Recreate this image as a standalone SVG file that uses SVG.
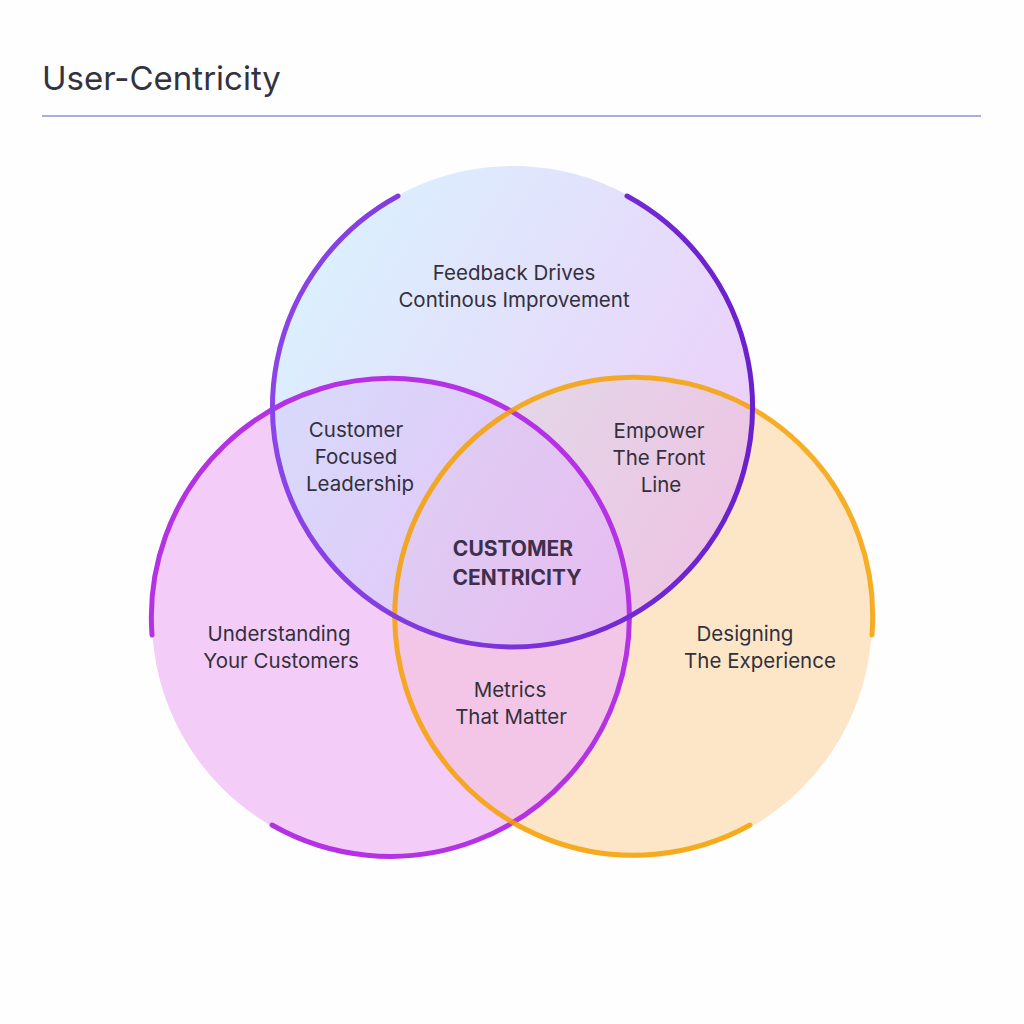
<svg xmlns="http://www.w3.org/2000/svg" width="1024" height="1024" viewBox="0 0 1024 1024">
<style>
text{font-family:Inter,"Liberation Sans",sans-serif;fill:#33303d;text-anchor:middle}
.t{font-size:20.5px}
.c{font-size:21px;font-weight:700;fill:#3e2f4d}
.s{fill:none;stroke-width:5;stroke-linecap:round}
</style>
<defs>
<linearGradient id="gt" x1="0" y1="0" x2="1" y2="0.6"><stop offset="0" stop-color="#bff0ff"/><stop offset="1" stop-color="#e2b2f6"/></linearGradient>
<linearGradient id="st" x1="0" y1="0" x2="1" y2="0"><stop offset="0" stop-color="#8a45e8"/><stop offset="1" stop-color="#6a20cc"/></linearGradient>
</defs>
<rect width="1024" height="1024" fill="#fefefe"/>
<text x="42" y="90" style="font-size:33px;text-anchor:start;fill:#33333f">User-Centricity</text>
<line x1="42" y1="116" x2="981" y2="116" stroke="#5563b0" stroke-width="1"/>
<g id="right"><circle cx="633" cy="619" r="239" fill="#fcdcb0" fill-opacity="0.7"/></g>
<g id="left"><circle cx="391" cy="619" r="239" fill="#eeb8f4" fill-opacity="0.7"/></g>
<g id="top"><circle cx="513" cy="406" r="240" fill="url(#gt)" fill-opacity="0.62"/></g>
<g id="connectors">
<path class="s" d="M272 825 A239 239 0 1 0 152 635" stroke="#b432e4"/>
<path class="s" d="M872 635 A239 239 0 1 0 750 825" stroke="#f5a000" stroke-opacity="0.85"/>
<path class="s" d="M398 196 A240 240 0 1 0 627 196" stroke="url(#st)"/>
</g>
<g id="labels">
<text class="t" x="514" y="280">Feedback Drives</text>
<text class="t" x="514" y="307">Continous Improvement</text>
<text class="t" x="356" y="437">Customer</text>
<text class="t" x="356" y="464">Focused</text>
<text class="t" x="360" y="491">Leadership</text>
<text class="t" x="659" y="438">Empower</text>
<text class="t" x="659" y="465">The Front</text>
<text class="t" x="661" y="492">Line</text>
<text class="c" x="513" y="556">CUSTOMER</text>
<text class="c" x="517" y="585">CENTRICITY</text>
<text class="t" x="279" y="641">Understanding</text>
<text class="t" x="281" y="668">Your Customers</text>
<text class="t" x="745" y="641">Designing</text>
<text class="t" x="760" y="668">The Experience</text>
<text class="t" x="510" y="697">Metrics</text>
<text class="t" x="511" y="724">That Matter</text>
</g>
</svg>
